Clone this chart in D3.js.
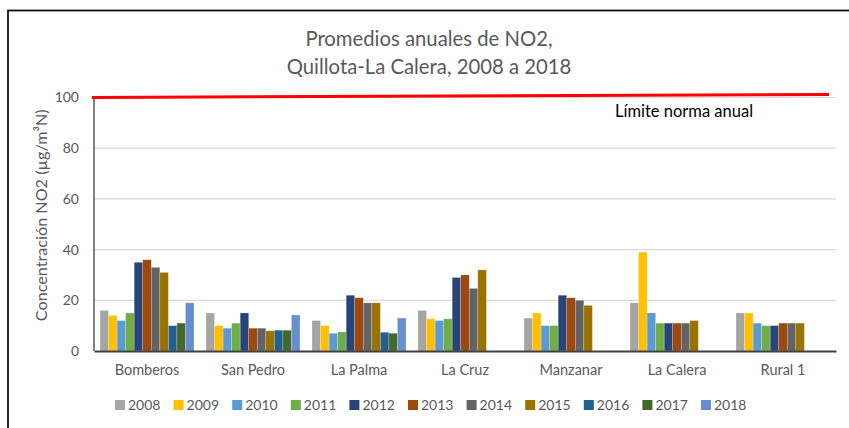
<!DOCTYPE html>
<html>
<head>
<meta charset="utf-8">
<script src="https://cdn.jsdelivr.net/npm/d3@7"></script>
<style>
  body { margin: 0; background: #fff; }
  svg text { font-family: Lato, "Open Sans", sans-serif; }
</style>
</head>
<body>
<div id="chart"></div>
<script>
// Data
const stations = ["Bomberos", "San Pedro", "La Palma", "La Cruz", "Manzanar", "La Calera", "Rural 1"];
const years = ["2008", "2009", "2010", "2011", "2012", "2013", "2014", "2015", "2016", "2017", "2018"];
const bomberos = [16, 14, 12, 15, 35, 36, 33, 31, 10, 11, 19];
const sanPedro = [15, 10, 9, 11, 15, 9, 9, 8, 8.2, 8.2, 14.2];
const laPalma = [12, 10, 7, 7.5, 22, 21, 19, 19, 7.4, 7, 13];
const laCruz = [16, 12.7, 12, 12.7, 29, 30, 24.7, 32, null, null, null];
const manzanar = [13, 15, 10, 10, 22, 21, 20, 18, null, null, null];
const laCalera = [19, 39, 15, 11, 11, 11, 11, 12, null, null, null];
const rural1 = [15, 15, 11, 10, 10, 11, 11, 11, null, null, null];
const yTicks = [0, 20, 40, 60, 80, 100];
const limitValues = [100, 101.2]; // red "Límite norma anual" line, left and right ends

const seriesByStation = [bomberos, sanPedro, laPalma, laCruz, manzanar, laCalera, rural1];
const colors = ["#A5A5A5", "#FFC000", "#5B9BD5", "#70AD47", "#264478", "#9E480E",
                "#636363", "#997300", "#255E91", "#43682B", "#698ED0"];

const W = 849, H = 428;
const plot = { left: 94, right: 836, top: 97.5, bottom: 351 };

const svg = d3.select("#chart").append("svg")
  .attr("width", W)
  .attr("height", H);

// chart frame (only left and top edges fall inside the picture)
svg.append("rect")
  .attr("x", 8).attr("y", 10.5)
  .attr("width", 860).attr("height", 440)
  .attr("fill", "none")
  .attr("stroke", "#111")
  .attr("stroke-width", 1.8);

const x0 = d3.scaleBand().domain(stations).range([plot.left, plot.right]).padding(0);
const x1 = d3.scaleBand().domain(years).range([6, x0.bandwidth() - 6]).padding(0);
const y = d3.scaleLinear().domain([0, 100]).range([plot.bottom, plot.top]);
const color = d3.scaleOrdinal().domain(years).range(colors);

// gridlines
svg.append("g")
  .selectAll("line")
  .data(yTicks.filter(d => d > 0))
  .join("line")
  .attr("x1", plot.left).attr("x2", plot.right)
  .attr("y1", d => y(d)).attr("y2", d => y(d))
  .attr("stroke", "#d9d9d9")
  .attr("stroke-width", 1.2);

// y axis labels
const yAxis = d3.axisLeft(y).tickValues(yTicks).tickSize(0).tickPadding(15);
svg.append("g")
  .attr("transform", `translate(${plot.left},0)`)
  .call(yAxis)
  .call(g => g.select(".domain").remove())
  .call(g => g.selectAll("text")
    .attr("font-size", 14)
    .attr("fill", "#595959")
    .style("font-family", "Lato, sans-serif"));

// bars
const groups = svg.append("g")
  .selectAll("g")
  .data(stations)
  .join("g")
  .attr("transform", d => `translate(${x0(d)},0)`);

groups.selectAll("rect")
  .data((d, i) => years.map((yr, j) => ({ year: yr, value: seriesByStation[i][j] }))
    .filter(e => e.value != null))
  .join("rect")
  .attr("x", d => x1(d.year))
  .attr("width", x1.bandwidth())
  .attr("y", d => y(d.value))
  .attr("height", d => y(0) - y(d.value))
  .attr("fill", d => color(d.year))
  .attr("stroke", "#fff")
  .attr("stroke-opacity", 0.35)
  .attr("stroke-width", 0.6);

// axis lines
svg.append("line")
  .attr("x1", plot.left).attr("x2", plot.left)
  .attr("y1", plot.top).attr("y2", plot.bottom)
  .attr("stroke", "#595959").attr("stroke-width", 1.5);

const xAxis = d3.axisBottom(x0).tickSize(0).tickPadding(14);
svg.append("g")
  .attr("transform", `translate(0,${plot.bottom})`)
  .call(xAxis)
  .call(g => g.select(".domain").attr("stroke", "#404040").attr("stroke-width", 1.8))
  .call(g => g.selectAll("text")
    .attr("font-size", 14.5)
    .attr("fill", "#595959")
    .style("font-family", "Lato, sans-serif"));

// limit line
svg.append("line")
  .attr("x1", plot.left - 2).attr("x2", plot.right - 7)
  .attr("y1", y(limitValues[0])).attr("y2", y(limitValues[1]))
  .attr("stroke", "#FF0000")
  .attr("stroke-width", 3);

svg.append("text")
  .attr("x", 615).attr("y", 117)
  .attr("font-size", 16.5)
  .attr("fill", "#000")
  .text("Límite norma anual");

// title
svg.append("text")
  .attr("x", 429).attr("y", 46)
  .attr("text-anchor", "middle")
  .attr("font-size", 20.3)
  .attr("fill", "#595959")
  .text("Promedios anuales de NO2,");
svg.append("text")
  .attr("x", 429).attr("y", 74)
  .attr("text-anchor", "middle")
  .attr("font-size", 20.3)
  .attr("fill", "#595959")
  .text("Quillota-La Calera, 2008 a 2018");

// y axis title
svg.append("text")
  .attr("transform", `translate(47,${(plot.top + plot.bottom) / 2 - 9}) rotate(-90)`)
  .attr("text-anchor", "middle")
  .attr("font-size", 16.2)
  .attr("fill", "#595959")
  .text("Concentración NO2 (µg/m³N)");

// legend
const legend = svg.append("g")
  .selectAll("g")
  .data(years)
  .join("g")
  .attr("transform", (d, i) => `translate(${115 + i * 58.6},405)`);

legend.append("rect")
  .attr("x", 0).attr("y", -5)
  .attr("width", 10).attr("height", 10)
  .attr("fill", d => color(d));

legend.append("text")
  .attr("x", 13).attr("y", 5)
  .attr("font-size", 14)
  .attr("fill", "#595959")
  .text(d => d);
</script>
</body>
</html>
